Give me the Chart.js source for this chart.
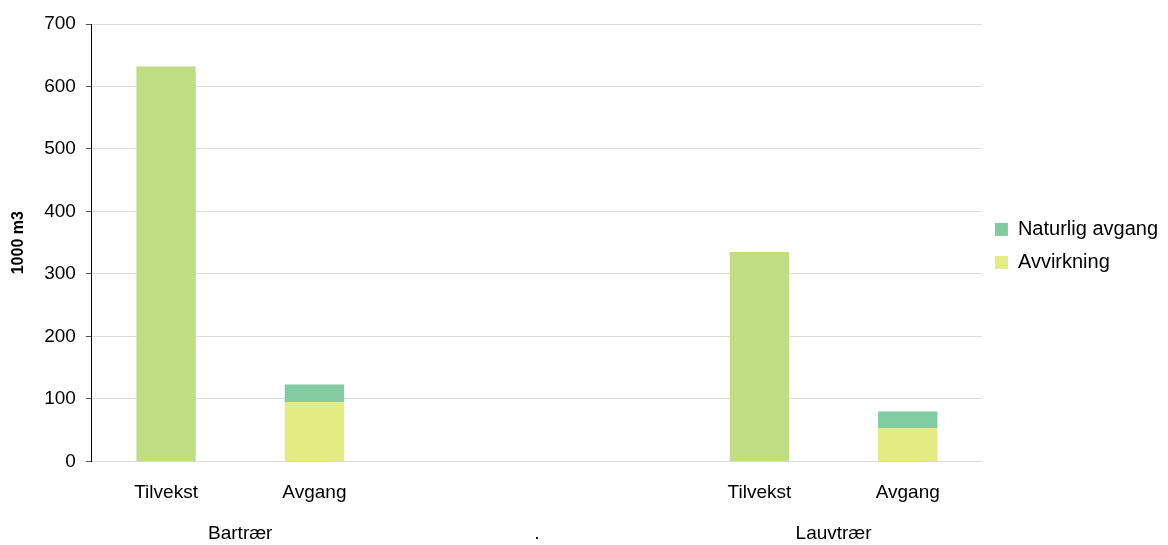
<!DOCTYPE html>
<html>
<head>
<meta charset="utf-8">
<script src="https://cdn.jsdelivr.net/npm/chart.js@4/dist/chart.umd.min.js"></script>
<style>
  html, body { margin: 0; padding: 0; background: #fff; }
  #wrap { width: 1168px; height: 545px; position: relative; }
</style>
</head>
<body>
<div id="wrap"><canvas id="chart"></canvas></div>
<script>
// category labels (two empty slots make the gap between the groups)
const categories = ['Tilvekst', 'Avgang', '', '', 'Tilvekst', 'Avgang'];
const groups = ['Bartrær', '.', 'Lauvtrær'];

// values, 1000 m3
const tilvekst = [632, null, null, null, 335, null];
const avvirkning = [null, 95, null, null, null, 53];
const naturligAvgang = [null, 28, null, null, null, 27];

const yTicks = [0, 100, 200, 300, 400, 500, 600, 700];

const font = 'Arial, "Liberation Sans", sans-serif';

new Chart(document.getElementById('chart').getContext('2d'), {
  type: 'bar',
  data: {
    labels: categories,
    datasets: [{
      label: 'Tilvekst',
      data: tilvekst,
      backgroundColor: '#c0dd84',
      barPercentage: 0.8,
      categoryPercentage: 0.5
    }, {
      label: 'Avvirkning',
      data: avvirkning,
      backgroundColor: '#e4eb82',
      barPercentage: 0.8,
      categoryPercentage: 0.5
    }, {
      label: 'Naturlig avgang',
      data: naturligAvgang,
      backgroundColor: '#80cba2',
      barPercentage: 0.8,
      categoryPercentage: 0.5
    }]
  },
  options: {
    responsive: true,
    maintainAspectRatio: false,
    animation: false,
    layout: {
      padding: { top: 24, left: 0, right: 0, bottom: -14 }
    },
    scales: {
      x: {
        stacked: true,
        grid: { display: false, tickLength: 16 },
        border: { color: '#d9d9d9' },
        ticks: {
          color: '#000',
          font: { family: font, size: 19 },
          padding: 4
        }
      },
      x2: {
        type: 'category',
        labels: groups,
        position: 'bottom',
        grid: { display: false, drawTicks: false },
        border: { display: false },
        ticks: {
          color: '#000',
          font: { family: font, size: 19 },
          padding: 14
        }
      },
      y: {
        stacked: true,
        min: 0,
        max: 700,
        afterBuildTicks: (axis) => {
          axis.ticks = yTicks.map(v => ({ value: v }));
        },
        grid: {
          color: '#dcdcd7',
          tickColor: '#555',
          tickLength: 6
        },
        border: { color: '#000', width: 1 },
        ticks: {
          color: '#000',
          font: { family: font, size: 19 },
          padding: 10
        },
        title: {
          display: true,
          text: '1000 m3',
          color: '#000',
          font: { family: font, size: 16, weight: 'bold' },
          padding: { top: 9, bottom: 6 }
        }
      }
    },
    plugins: {
      legend: {
        position: 'right',
        align: 'start',
        reverse: true,
        title: {
          display: true,
          text: ' ',
          padding: { top: 0, bottom: 168 }
        },
        labels: {
          filter: (item) => item.text !== 'Tilvekst',
          boxWidth: 13,
          boxHeight: 13,
          padding: 13,
          color: '#000',
          font: { family: font, size: 20 }
        }
      },
      tooltip: { enabled: false }
    }
  }
});
</script>
</body>
</html>
